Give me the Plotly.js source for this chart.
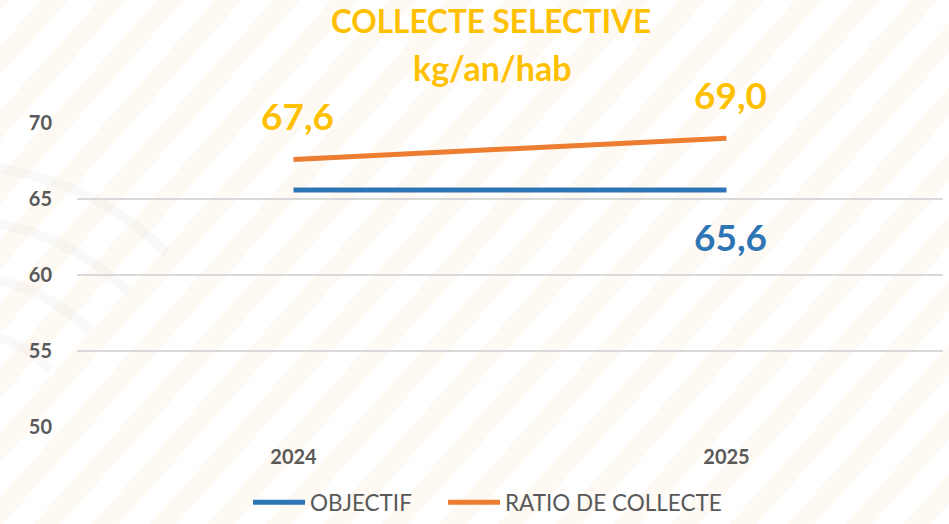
<!DOCTYPE html>
<html>
<head>
<meta charset="utf-8">
<script src="https://cdn.plot.ly/plotly-3.0.1.min.js"></script>
<style>html,body{margin:0;padding:0;background:#fff;}#chart{width:949px;height:524px;}</style>
</head>
<body>
<div id="chart"></div>
<script>
const categories = ['2024', '2025'];
const objectif = [65.6, 65.6];
const ratioCollecte = [67.6, 69.0];
const seriesNames = ['OBJECTIF', 'RATIO DE COLLECTE'];
const yTicks = [50, 55, 60, 65, 70];
const titleLine1 = 'COLLECTE SELECTIVE';
const titleLine2 = 'kg/an/hab';

const FONT = 'Lato, "Open Sans", sans-serif';
const fmt = v => v.toFixed(1).replace('.', ',');

// plot area in pixels (for layout/decoration only)
const W = 949, H = 524, ML = 77, MR = 6, MT = 123, MB = 97;
const PW = W - ML - MR, PH = H - MT - MB;
const px2x = px => (px - ML) / PW;
const py2y = py => 1 - (py - MT) / PH;

const traces = [
  {x: categories, y: objectif, name: seriesNames[0], type: 'scatter', mode: 'lines',
   line: {color: '#2E75B6', width: 5}, hoverinfo: 'skip', legend: 'legend'},
  {x: categories, y: ratioCollecte, name: seriesNames[1], type: 'scatter', mode: 'lines',
   line: {color: '#ED7D31', width: 5}, hoverinfo: 'skip', legend: 'legend2'}
];

// data labels: category index on the category axis, value on the y axis
const annotations = [];
ratioCollecte.forEach((v, i) => {
  annotations.push({x: i, y: v, xref: 'x', yref: 'y', text: '<b>' + fmt(v) + '</b>', showarrow: false,
    xshift: 4, yshift: 44, yanchor: 'middle', xanchor: 'center',
    font: {family: FONT, size: 37, color: '#FFC000'}});
});
const lastIdx = objectif.length - 1;
annotations.push({x: lastIdx, y: objectif[lastIdx], xref: 'x', yref: 'y', text: '<b>' + fmt(objectif[lastIdx]) + '</b>', showarrow: false,
  xshift: 4, yshift: -47, yanchor: 'middle', xanchor: 'center',
  font: {family: FONT, size: 37, color: '#2E75B6'}});
annotations.push({x: px2x(492), y: py2y(67), xref: 'paper', yref: 'paper', text: '<b>' + titleLine2 + '</b>',
  showarrow: false, xanchor: 'center', yanchor: 'middle',
  font: {family: FONT, size: 34, color: '#FFC000'}});

// decorative background: faint diagonal stripes and grey arcs
const shapes = [];
const slope = Math.tan(48 * Math.PI / 180);
for (let bx = -600; bx < W + 100; bx += 58) {
  const x0 = bx, y0 = H + 10, x1 = bx + (H + 20) / slope, y1 = -10;
  shapes.push({type: 'line', xref: 'paper', yref: 'paper', layer: 'below',
    x0: px2x(x0), y0: py2y(y0), x1: px2x(x1), y1: py2y(y1),
    line: {color: 'rgba(245,215,170,0.15)', width: 20}});
}
const arcC = [-45, 465];
[300, 245, 190, 135].forEach(r => {
  let d = '';
  for (let a = 180; a >= 45; a -= 5) {
    const t = a * Math.PI / 180;
    const px = arcC[0] + r * Math.cos(t), py = arcC[1] - r * Math.sin(t);
    d += (d ? ' L' : 'M') + px2x(px).toFixed(4) + ',' + py2y(py).toFixed(4);
  }
  shapes.push({type: 'path', xref: 'paper', yref: 'paper', layer: 'below', path: d,
    line: {color: 'rgba(0,0,0,0.025)', width: 10}});
});

const legendFont = {family: FONT, size: 22.5, color: '#595959'};
const layout = {
  width: W, height: H,
  margin: {l: ML, r: MR, t: MT, b: MB},
  paper_bgcolor: '#ffffff', plot_bgcolor: 'rgba(0,0,0,0)',
  font: {family: FONT, color: '#595959'},
  title: {text: '<b>' + titleLine1 + '</b>', x: 491/949, xref: 'container', xanchor: 'center',
    y: 1 - 22/524, yref: 'container', yanchor: 'middle',
    font: {family: FONT, size: 31.5, color: '#FFC000'}},
  xaxis: {type: 'category', range: [-0.5, 1.5], showgrid: false, zeroline: false, showline: false,
    ticks: '', ticklabelstandoff: 16,
    tickfont: {family: FONT, size: 20, color: '#595959', weight: 'bold'}, fixedrange: true},
  yaxis: {range: [50, 70], tickvals: yTicks, ticktext: yTicks.map(String), showgrid: true,
    gridcolor: '#D9D9D9', gridwidth: 1.5, zeroline: false, showline: false, ticks: '',
    ticklabelstandoff: 24,
    tickfont: {family: FONT, size: 20, color: '#595959', weight: 'bold'}, fixedrange: true},
  showlegend: true,
  legend: {orientation: 'h', x: 248/949, xref: 'container', xanchor: 'left', y: -0.014, yref: 'container',
    yanchor: 'bottom', itemwidth: 52, font: legendFont, bgcolor: 'rgba(0,0,0,0)'},
  legend2: {orientation: 'h', x: 443/949, xref: 'container', xanchor: 'left', y: -0.014, yref: 'container',
    yanchor: 'bottom', itemwidth: 52, font: legendFont, bgcolor: 'rgba(0,0,0,0)'},
  annotations: annotations,
  shapes: shapes
};

Plotly.newPlot('chart', traces, layout, {displayModeBar: false, staticPlot: true});
</script>
</body>
</html>
